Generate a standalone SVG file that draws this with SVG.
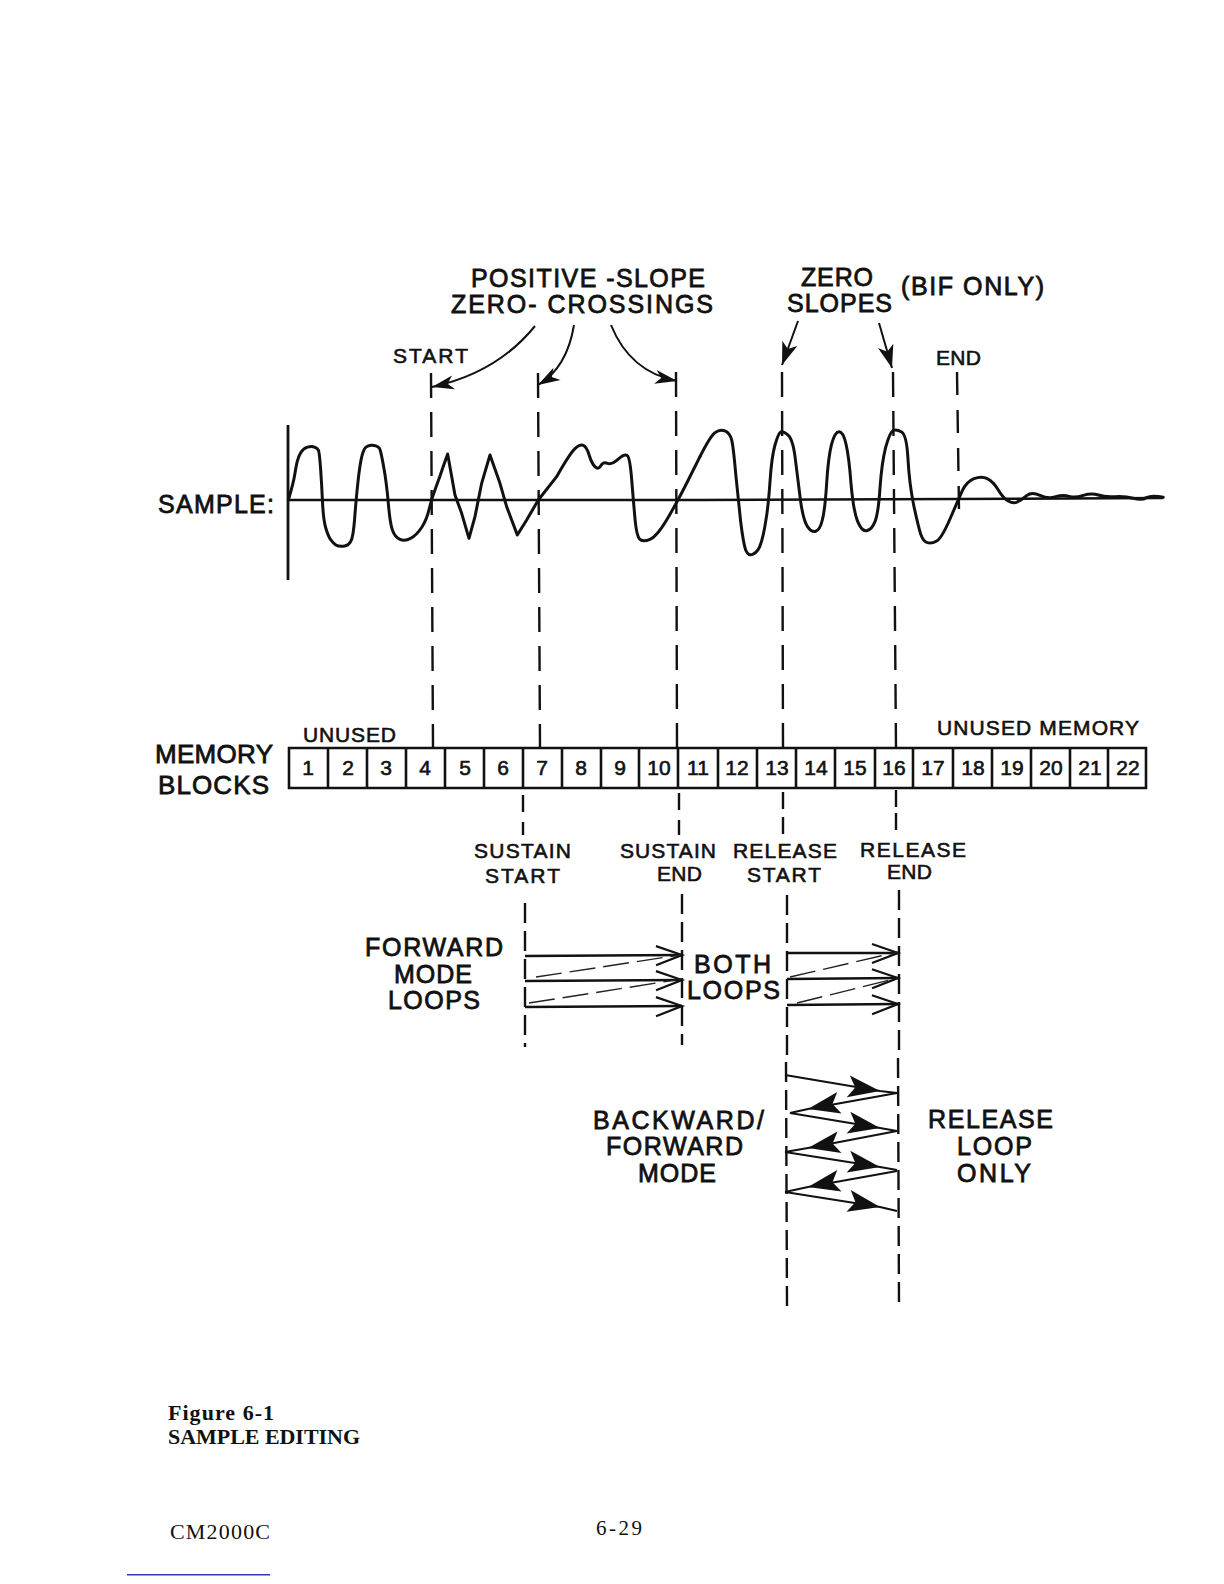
<svg xmlns="http://www.w3.org/2000/svg" width="1224" height="1584" viewBox="0 0 1224 1584">
<style>
text{font-family:"Liberation Sans",Arial,sans-serif;fill:#111;stroke:#111;stroke-width:.8}
.l{font-size:25px}.m{font-size:21px;stroke-width:.6}.n{font-size:21px;text-anchor:middle;stroke-width:.6}
.s{font-family:"Liberation Serif","Times New Roman",serif;stroke:none}
.ln{fill:none;stroke:#111;stroke-width:2.4}
.d{stroke-dasharray:25 14}.e{stroke-dasharray:20 8}
.th{fill:none;stroke:#222;stroke-width:1.4}
.dd{stroke-dasharray:26 8}
.c{fill:none;stroke:#111;stroke-width:2}
.cell{fill:none;stroke:#111;stroke-width:2.6}
</style>
<defs>
<marker id="open" markerUnits="userSpaceOnUse" markerWidth="34" markerHeight="30" refX="29" refY="15" orient="auto"><path d="M3 6 L29 15 L3 25" fill="none" stroke="#111" stroke-width="2.2"/></marker>
<marker id="solid" markerUnits="userSpaceOnUse" markerWidth="38" markerHeight="30" refX="34" refY="15" orient="auto"><path d="M2 4 L34 15 L2 26 L9 15Z" fill="#111"/></marker>
<marker id="slope" markerUnits="userSpaceOnUse" markerWidth="30" markerHeight="24" refX="26" refY="12" orient="auto"><path d="M3 4 L26 12 L3 20 L9 12Z" fill="#111"/></marker>
<marker id="thin" markerUnits="userSpaceOnUse" markerWidth="30" markerHeight="24" refX="26" refY="12" orient="auto"><path d="M4 5 L26 12 L4 19 L10 12Z" fill="#111"/></marker>
</defs>
<rect width="1224" height="1584" fill="#fff"/>

<g id="connectors">
<g id="guides">
<path class="ln d" d="M431 373L433 748"/>
<path class="ln d" d="M538 373L540 748"/>
<path class="ln d" d="M676 372L677 748"/>
<path class="ln d" d="M782 372L783 748"/>
<path class="ln d" d="M893 372L896 748"/>
<path class="ln" stroke-dasharray="23 15" d="M957 372L959 510"/>
<path class="ln" stroke-dasharray="17 10" d="M523 795L523 835"/>
<path class="ln" stroke-dasharray="17 10" d="M679 793L679 835"/>
<path class="ln" stroke-dasharray="17 8" d="M783 792L783 834"/>
<path class="ln" stroke-dasharray="17 6" d="M896 790L896 830"/>
<path class="ln e" d="M525 903L525 1047"/>
<path class="ln e" d="M682 894L682 1045"/>
<path class="ln e" d="M787 895L787 1058"/>
<path class="ln e" d="M899 890L899 1053"/>
<path class="ln e" d="M786 1062L787 1307"/>
<path class="ln e" d="M898 1058L899 1307"/>
</g>
<g id="callouts">
<path class="c" marker-end="url(#thin)" d="M535 326Q497 373 432 387"/>
<path class="c" marker-end="url(#thin)" d="M574 325Q567 368 538 385"/>
<path class="c" marker-end="url(#thin)" d="M611 325Q630 372 677 381"/>
<path class="c" marker-end="url(#slope)" d="M798 321L782 365"/>
<path class="c" marker-end="url(#slope)" d="M879 323L892 368"/>
</g>
<g id="forward-loops">
<path class="ln" marker-end="url(#open)" d="M525 956L682 955"/>
<path class="ln" marker-end="url(#open)" d="M525 981L682 980"/>
<path class="ln" marker-end="url(#open)" d="M525 1007L682 1006"/>
<path class="th dd" d="M536 977L680 955"/>
<path class="th dd" d="M529 1003L682 979"/>
<path class="ln" marker-end="url(#open)" d="M787 953L898 953"/>
<path class="ln" marker-end="url(#open)" d="M787 979L898 978"/>
<path class="ln" marker-end="url(#open)" d="M787 1005L898 1004"/>
<path class="th dd" d="M790 977L898 952"/>
<path class="th dd" d="M797 1003L898 978"/>
</g>
<g id="zigzag">
<polyline class="c" marker-mid="url(#solid)" points="785,1075 880,1091 897,1093"/>
<polyline class="c" marker-mid="url(#solid)" points="897,1093 808,1109 790,1113"/>
<polyline class="c" marker-mid="url(#solid)" points="790,1113 880,1128 897,1131"/>
<polyline class="c" marker-mid="url(#solid)" points="897,1131 808,1148 785,1152"/>
<polyline class="c" marker-mid="url(#solid)" points="785,1152 880,1167 897,1170"/>
<polyline class="c" marker-mid="url(#solid)" points="897,1171 808,1187 785,1192"/>
<polyline class="c" marker-mid="url(#solid)" points="785,1192 880,1207 897,1211"/>
</g>
</g>

<g id="sample">
<text class="l" x="158" y="513" textLength="116">SAMPLE:</text>
<path d="M288 425L288 580" fill="none" stroke="#111" stroke-width="2.8"/>
<path d="M288 500L700 500L1163 498" fill="none" stroke="#111" stroke-width="2.5"/>
<g fill="none" stroke="#111" stroke-width="9" stroke-linejoin="round" stroke-linecap="round">
<path transform="translate(270 250) scale(.3333)" d="M55,750Q70,700 74,675Q78,650 81.5,635Q85,620 92.5,607.5Q100,595 112.5,591.5Q125,588 133.5,591.5Q142,595 145,600Q148,605 151.5,652Q155,700 157.5,755Q160,810 167.5,835Q175,860 182.5,870Q190,880 197.5,885Q205,890 220,889Q235,888 242.5,874Q250,860 254,805Q258,750 264,695Q270,640 276,617Q282,595 288.5,591Q295,587 302.5,586Q310,585 317.5,587.5Q325,590 328.5,595Q332,600 341,650Q350,700 355,760Q360,820 367.5,841Q375,862 390,868.5Q405,875 422.5,865Q440,855 455,832.5Q470,810 477.5,777.5Q485,745 497.5,712.5Q510,680 521,646L533,612L555,735L575,790L597,865L615,800L635,700L660,615L690,700L710,770L742,855L770,810L805,750L860,680Q900,610 915,596Q930,582 940,586Q950,590 957.5,615Q965,640 975,650Q985,660 992.5,647.5Q1000,635 1012.5,640Q1025,645 1045,627.5Q1065,610 1072.5,617.5Q1080,625 1085,687Q1090,750 1095,805Q1100,860 1110,868Q1120,877 1140,868Q1160,860 1190,810Q1220,760 1255,690L1290,620"/>
<path transform="translate(700 250) scale(.3333)" d="M0,620Q30,560 45,548Q60,537 75,543Q90,550 95,570Q100,590 107,670Q115,750 122,815Q130,880 137,900Q145,920 160,912Q175,905 182,882Q190,860 197,815Q205,770 210,695Q215,620 225,585Q235,550 242,546Q250,543 265,556Q280,570 287,635Q295,700 302,755Q310,810 322,829Q335,848 347,844Q360,840 367,810Q375,780 380,700Q385,620 395,582Q405,545 417,545Q430,545 438,582Q447,620 453,700Q460,780 472,812Q485,845 500,842Q515,840 525,815Q535,790 540,715Q545,640 557,592Q570,545 580,541Q590,537 605,546Q620,555 624,627Q628,700 641,765Q655,830 662,852Q670,875 682,878Q695,882 710,873Q725,865 750,807Q775,750 787,722Q800,695 822,686Q845,677 862,686Q880,695 895,720Q910,745 925,753Q940,762 952,756Q965,750 980,737Q995,725 1020,736Q1045,748 1067,740Q1090,733 1107,739Q1125,745 1150,736Q1175,728 1195,735Q1215,742 1245,740Q1275,738 1300,745Q1325,752 1340,743Q1355,735 1390,742"/>
</g>
</g>

<g id="memory-blocks">
<path class="cell" d="M289 748H1146V788H289Z"/>
<path class="cell" d="M328 748V788M367 748V788M406 748V788M445 748V788M484 748V788M523 748V788M562 748V788M601 748V788M639 748V788M678 748V788M718 748V788M757 748V788M796 748V788M835 748V788M875 748V788M913 748V788M953 748V788M992 748V788M1031 748V788M1070 748V788M1108 748V788"/>
<text class="n" x="308" y="775">1</text><text class="n" x="348" y="775">2</text><text class="n" x="386" y="775">3</text><text class="n" x="425" y="775">4</text><text class="n" x="465" y="775">5</text><text class="n" x="503" y="775">6</text><text class="n" x="542" y="775">7</text><text class="n" x="581" y="775">8</text><text class="n" x="620" y="775">9</text>
<text class="n" x="659" y="775">10</text><text class="n" x="698" y="775">11</text><text class="n" x="737" y="775">12</text><text class="n" x="777" y="775">13</text><text class="n" x="816" y="775">14</text><text class="n" x="855" y="775">15</text><text class="n" x="894" y="775">16</text><text class="n" x="933" y="775">17</text><text class="n" x="973" y="775">18</text><text class="n" x="1012" y="775">19</text><text class="n" x="1051" y="775">20</text><text class="n" x="1090" y="775">21</text><text class="n" x="1128" y="775">22</text>
<text class="l" x="155" y="763" textLength="118" style="font-size:26px">MEMORY</text>
<text class="l" x="158" y="794" textLength="111" style="font-size:26px">BLOCKS</text>
<text class="m" x="303" y="742" textLength="93">UNUSED</text>
<text class="m" x="937" y="735" textLength="202">UNUSED MEMORY</text>
</g>

<g id="labels">
<text class="l" x="471" y="287" textLength="234">POSITIVE -SLOPE</text>
<text class="l" x="451" y="313" textLength="262">ZERO- CROSSINGS</text>
<text class="m" x="393" y="363" textLength="75">START</text>
<text class="l" x="801" y="286" textLength="72">ZERO</text>
<text class="l" x="787" y="312" textLength="105">SLOPES</text>
<text class="l" x="901" y="295" textLength="143">(BIF ONLY)</text>
<text class="m" x="936" y="365" textLength="45">END</text>
<text class="m" x="474" y="858" textLength="97">SUSTAIN</text>
<text class="m" x="485" y="883" textLength="75">START</text>
<text class="m" x="620" y="858" textLength="96">SUSTAIN</text>
<text class="m" x="657" y="881" textLength="45">END</text>
<text class="m" x="733" y="858" textLength="104">RELEASE</text>
<text class="m" x="747" y="882" textLength="74">START</text>
<text class="m" x="860" y="857" textLength="106">RELEASE</text>
<text class="m" x="887" y="879" textLength="45">END</text>
<text class="l" x="365" y="956" textLength="138">FORWARD</text>
<text class="l" x="394" y="983" textLength="78">MODE</text>
<text class="l" x="388" y="1009" textLength="92">LOOPS</text>
<text class="l" x="694" y="973" textLength="77">BOTH</text>
<text class="l" x="687" y="999" textLength="93">LOOPS</text>
<text class="l" x="593" y="1129" textLength="171">BACKWARD/</text>
<text class="l" x="606" y="1155" textLength="137">FORWARD</text>
<text class="l" x="638" y="1182" textLength="78">MODE</text>
<text class="l" x="928" y="1128" textLength="125">RELEASE</text>
<text class="l" x="957" y="1155" textLength="75">LOOP</text>
<text class="l" x="957" y="1182" textLength="74">ONLY</text>
</g>

<g id="page">
<text class="s" x="168" y="1420" font-size="22" font-weight="700" textLength="106">Figure 6-1</text>
<text class="s" x="168" y="1444" font-size="22" font-weight="700" textLength="192">SAMPLE EDITING</text>
<text class="s" x="170" y="1539" font-size="22" textLength="100">CM2000C</text>
<text class="s" x="596" y="1535" font-size="21" textLength="46">6-29</text>
<rect x="127" y="1574" width="143" height="1.5" fill="#2a3cb0"/>
</g>
</svg>
